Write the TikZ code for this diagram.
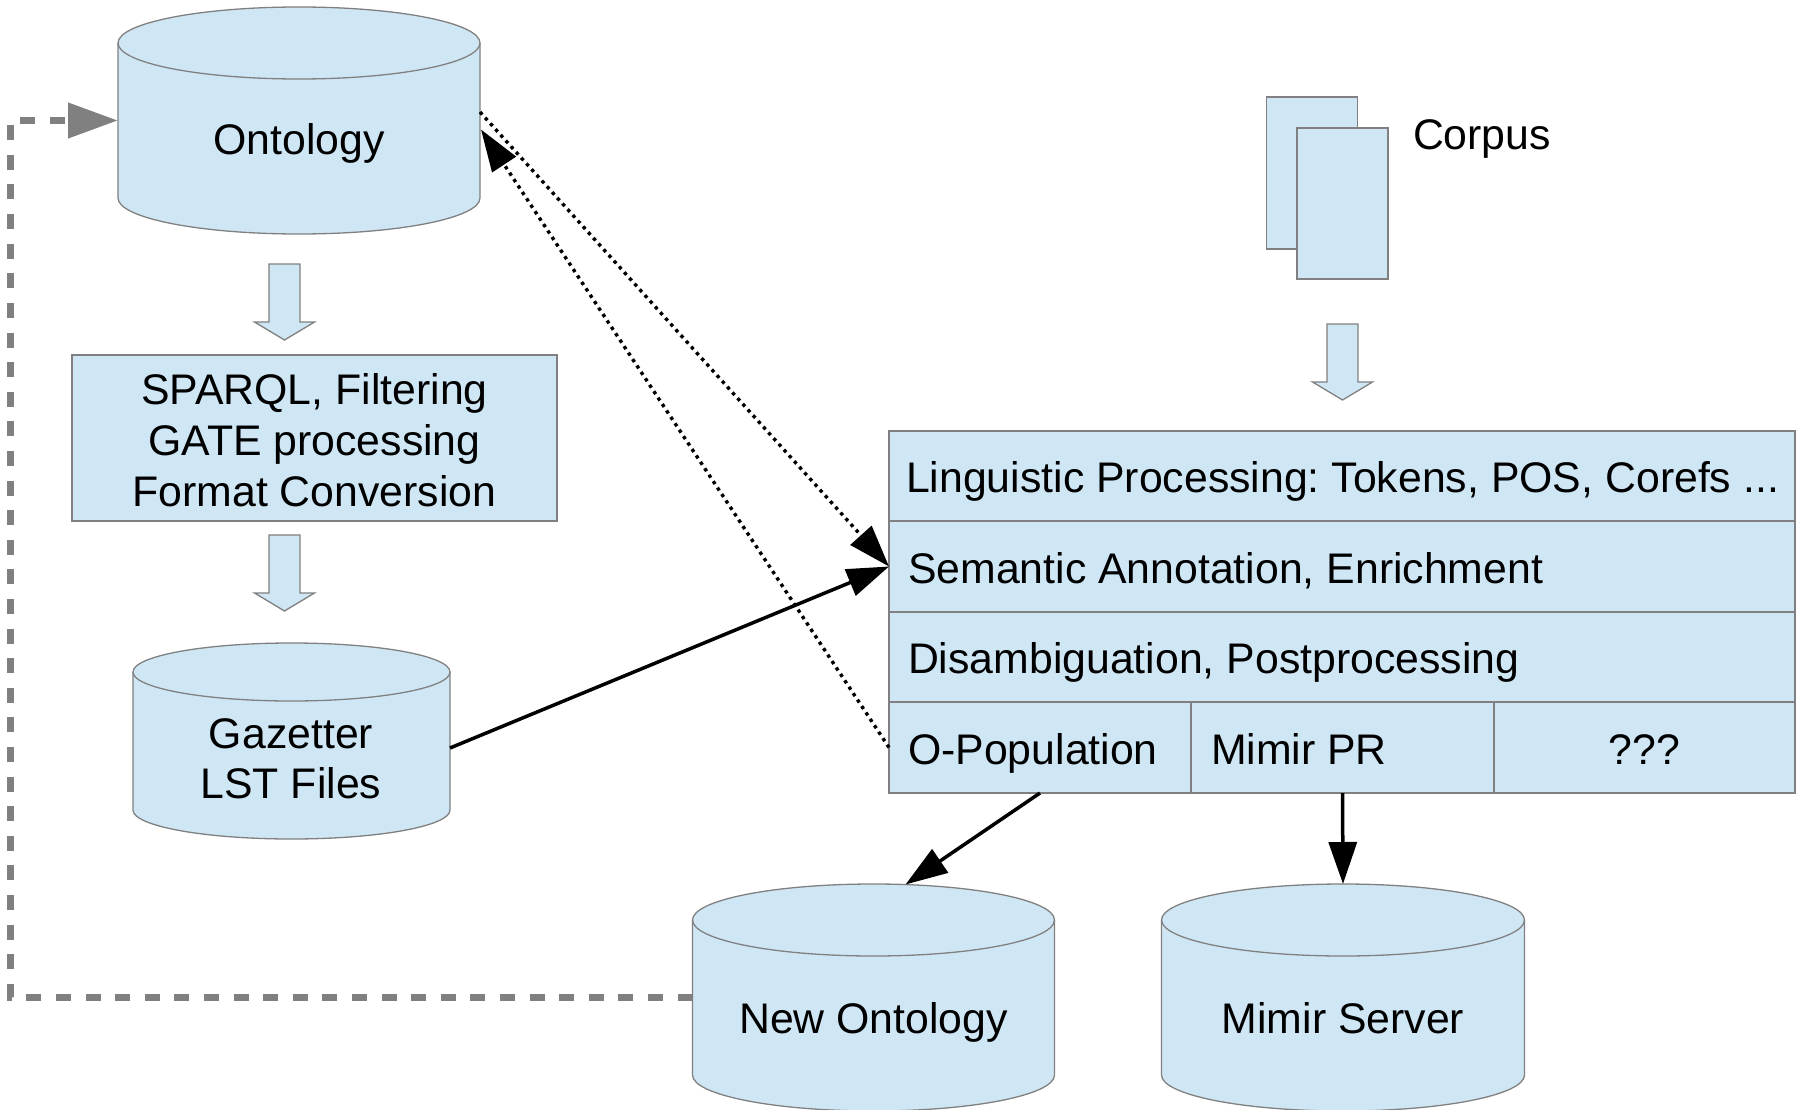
\documentclass[tikz,border=0pt]{standalone}
\usepackage{fontspec}
\setmainfont{Liberation Sans}
\usetikzlibrary{arrows.meta,calc}
\frenchspacing
\definecolor{boxblue}{RGB}{207,231,245}
\definecolor{edgegrey}{RGB}{128,128,128}
\definecolor{loopgrey}{RGB}{128,128,128}
\tikzset{
  cylstyle/.style={fill=boxblue, draw=edgegrey, line width=1.3pt},
  rowbox/.style={fill=boxblue, draw=edgegrey, line width=1.3pt, inner sep=0pt, outer sep=0pt},
  anchorbox/.style={inner sep=0pt, outer sep=0pt, draw=none, fill=none},
  txt/.style={font=\fontsize{42.8pt}{51pt}\selectfont, inner sep=0pt, outer sep=0pt},
  hollowarrow/.style={fill=boxblue, draw=edgegrey, line width=1.3pt},
  bigtip/.style={-{Triangle[length=42pt,width=28pt]}},
  conn/.style={line width=3.5pt, bigtip},
  dotconn/.style={line width=3.4pt, dash pattern=on 3.4pt off 4.3pt},
  loopback/.style={line width=7.4pt, draw=loopgrey, dash pattern=on 15pt off 14.6pt,
    -{Triangle[length=50pt,width=34pt,fill=loopgrey]}},
}
\newcommand\dbcyl[6]{%
  \pgfmathsetmacro\cylrx{(#3-#2)/2}%
  \pgfmathsetmacro\cylcx{(#3+#2)/2}%
  \pgfmathsetmacro\cylcy{(#4+#5)/2}%
  \pgfmathsetmacro\cylw{#3-#2}%
  \pgfmathsetmacro\cylh{#5-#4}%
  \filldraw[cylstyle] (#2,#4+#6) -- (#2,#5-#6)
    arc[start angle=180,end angle=360,x radius=\cylrx pt,y radius=#6pt]
    -- (#3,#4+#6)
    arc[start angle=0,end angle=180,x radius=\cylrx pt,y radius=#6pt] -- cycle;
  \draw[cylstyle,fill=none] (#2,#4+#6)
    arc[start angle=180,end angle=360,x radius=\cylrx pt,y radius=#6pt];
  \node[anchorbox, minimum width=\cylw pt, minimum height=\cylh pt] (#1) at (\cylcx,\cylcy) {};
}
\newcommand\hollowdown[4]{%
  \filldraw[hollowarrow] (#1-15.5,#2) -- (#1+15.5,#2) -- (#1+15.5,#3) -- (#1+30,#3)
    -- (#1,#4) -- (#1-30,#3) -- (#1-15.5,#3) -- cycle;
}
\begin{document}
\begin{tikzpicture}[x=1pt,y=-1pt]
\useasboundingbox (0,0) rectangle (1796,1110);

% cylinders
\dbcyl{ont}{118}{480}{7}{234}{36}
\node[txt, anchor=base] (ont-t) at (299,155) {Ontology};

\dbcyl{gaz}{133}{450}{643}{839}{29}
\node[txt, anchor=base] (gaz-t1) at (291,748) {Gazetter};
\node[txt, anchor=base] (gaz-t2) at (291,798) {LST Files};

\dbcyl{newont}{692.5}{1054.5}{884}{1111}{36}
\node[txt, anchor=base] (newont-t) at (873.5,1033) {New Ontology};

\dbcyl{mimir}{1161.5}{1524.5}{884}{1111}{36}
\node[txt, anchor=base] (mimir-t) at (1343,1033) {Mimir Server};

% hollow arrows
\hollowdown{284.5}{264}{322}{340}
\hollowdown{284.5}{535}{593}{611}
\hollowdown{1342.5}{324}{382}{400}

% SPARQL box
\node[rowbox, minimum width=485pt, minimum height=166pt] (sparql) at (314.5,438) {};
\node[txt, anchor=base] (sp-t1) at (314.5,404) {SPARQL, Filtering};
\node[txt, anchor=base] (sp-t2) at (314.5,455) {GATE processing};
\node[txt, anchor=base] (sp-t3) at (314.5,506) {Format Conversion};

% corpus
\node[rowbox, minimum width=91pt, minimum height=152pt] (docback) at (1312,173) {};
\node[rowbox, minimum width=91pt, minimum height=151pt] (docfront) at (1342.5,203.5) {};
\node[txt, anchor=base west] (corpus-t) at (1413,150) {Corpus};

% processing stack
\node[rowbox, minimum width=906pt, minimum height=90pt] (ling) at (1342,476) {};
\node[rowbox, minimum width=906pt, minimum height=91pt] (sem) at (1342,566.5) {};
\node[rowbox, minimum width=906pt, minimum height=90pt] (dis) at (1342,657) {};
\node[rowbox, minimum width=302pt, minimum height=91pt] (opop) at (1040,747.5) {};
\node[rowbox, minimum width=303pt, minimum height=91pt] (mimirpr) at (1342.5,747.5) {};
\node[rowbox, minimum width=301pt, minimum height=91pt] (qqq) at (1644.5,747.5) {};
\node[txt, anchor=base west] (ling-t) at (906,492.5) {Linguistic Processing: Tokens, POS, Corefs ...};
\node[txt, anchor=base west] (sem-t) at (908,583) {Semantic Annotation, Enrichment};
\node[txt, anchor=base west] (dis-t) at (908,673) {Disambiguation, Postprocessing};
\node[txt, anchor=base west] (opop-t) at (908,764) {O-Population};
\node[txt, anchor=base west] (mimirpr-t) at (1211,764) {Mimir PR};
\node[txt, anchor=base] (qqq-t) at (1644.5,764) {???};

% connectors
\draw[conn] ($(gaz.east)+(0,7)$) -- (sem.west);
\draw[dotconn, bigtip] ($(ont.east)+(0,-8.5)$) -- (sem.west);
\draw[dotconn, bigtip] (opop.west) -- ($(ont.east)+(1,9)$);
\coordinate (newont-in) at ($(newont.north)+(32,0.5)$);
\draw[conn] (opop.south) -- (newont-in);
\draw[conn] (mimirpr.south) -- (mimir.north);
\draw[loopback] (newont.west) -- (10.5,997.5) -- (10.5,120.5) -- (ont.west);
\end{tikzpicture}
\end{document}
